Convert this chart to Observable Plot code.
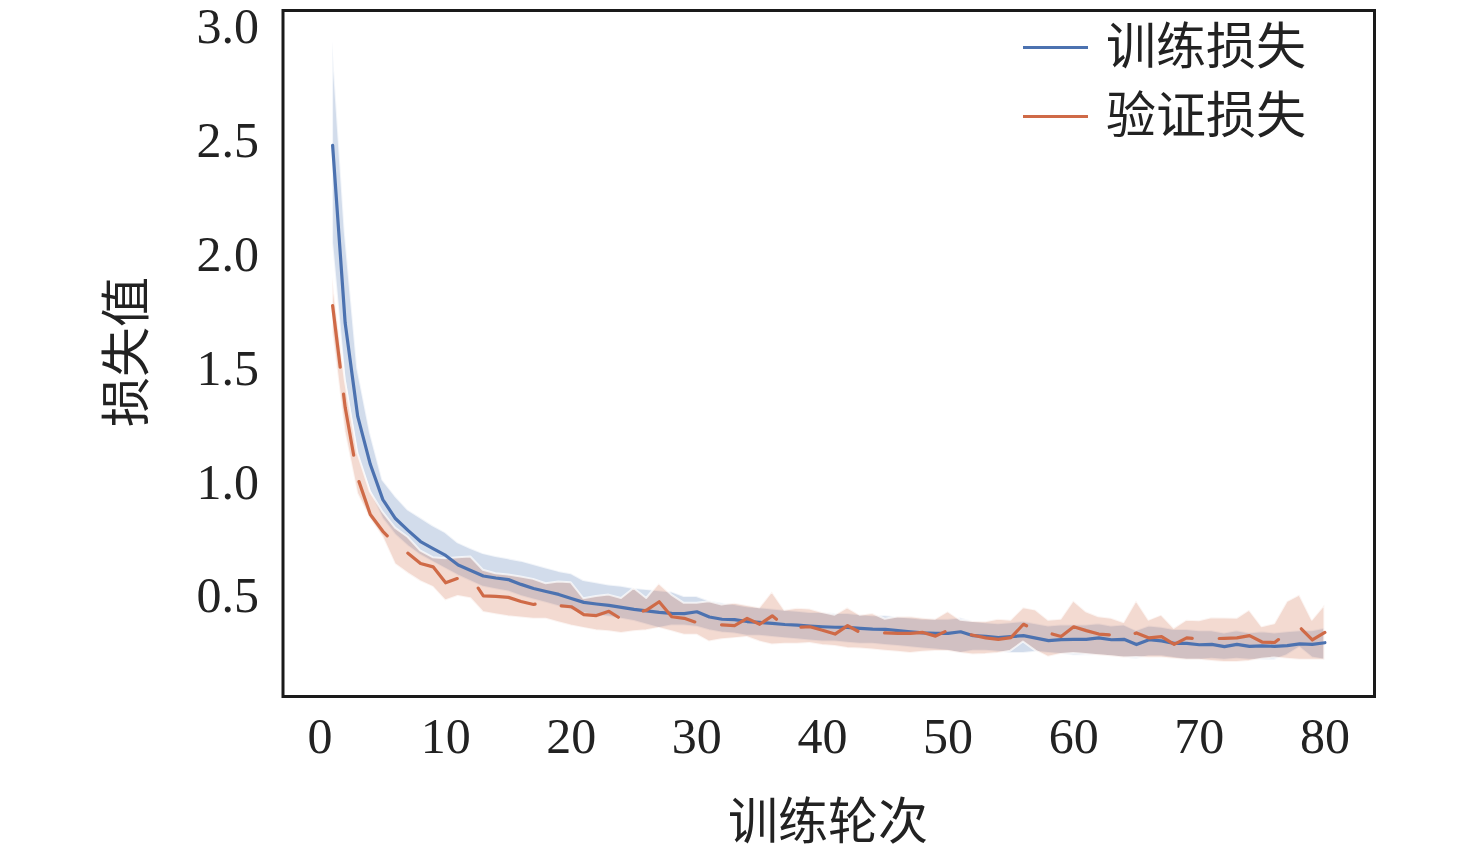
<!DOCTYPE html>
<html>
<head>
<meta charset="utf-8">
<script src="https://cdn.jsdelivr.net/npm/d3@7"></script>
<script src="https://cdn.jsdelivr.net/npm/@observablehq/plot@0.6"></script>
<style>
  html, body { margin: 0; padding: 0; background: #fff; }
  #wrap { position: relative; width: 1476px; height: 854px; overflow: hidden; }
  #chart { position: absolute; left: 0; top: 0; }
  #chart svg { overflow: visible; }
  .lbl { position: absolute; font-family: "Liberation Serif", "Noto Sans CJK SC", serif; font-size: 50px; color: #222; white-space: nowrap; line-height: 1; }
  .leg { position: absolute; font-family: "Liberation Serif", "Noto Sans CJK SC", serif; font-size: 50px; color: #222; white-space: nowrap; line-height: 1; }
  .sw { position: absolute; height: 3px; }
</style>
</head>
<body>
<div id="wrap">
  <div id="chart"></div>
</div>
<script>
// ---- data ----
const epochs = [1,2,3,4,5,6,7,8,9,10,11,12,13,14,15,16,17,18,19,20,21,22,23,24,25,26,27,28,29,30,31,32,33,34,35,36,37,38,39,40,41,42,43,44,45,46,47,48,49,50,51,52,53,54,55,56,57,58,59,60,61,62,63,64,65,66,67,68,69,70,71,72,73,74,75,76,77,78,79,80];

const trainLoss = [2.48,1.70,1.29,1.08,0.925,0.842,0.79,0.741,0.71,0.68,0.638,0.614,0.59,0.581,0.574,0.553,0.535,0.522,0.509,0.491,0.474,0.467,0.461,0.452,0.443,0.437,0.43,0.426,0.425,0.433,0.41,0.40,0.398,0.39,0.386,0.382,0.377,0.374,0.37,0.367,0.365,0.364,0.36,0.357,0.356,0.35,0.345,0.34,0.338,0.338,0.345,0.328,0.325,0.32,0.324,0.328,0.317,0.306,0.311,0.312,0.312,0.318,0.31,0.312,0.289,0.31,0.305,0.294,0.294,0.288,0.29,0.28,0.29,0.281,0.283,0.281,0.284,0.292,0.29,0.297];
const trainHi = [2.935,2.10,1.50,1.22,1.01,0.94,0.88,0.845,0.81,0.78,0.735,0.71,0.688,0.675,0.665,0.655,0.64,0.625,0.61,0.60,0.57,0.56,0.55,0.545,0.535,0.53,0.525,0.52,0.50,0.50,0.48,0.47,0.465,0.455,0.45,0.445,0.44,0.435,0.43,0.43,0.425,0.425,0.42,0.415,0.415,0.41,0.405,0.40,0.40,0.40,0.405,0.39,0.385,0.38,0.385,0.39,0.38,0.37,0.375,0.375,0.375,0.38,0.37,0.375,0.35,0.37,0.365,0.355,0.355,0.35,0.35,0.34,0.35,0.34,0.345,0.34,0.345,0.35,0.35,0.36];
const trainLo = [2.05,1.45,1.12,0.96,0.84,0.77,0.72,0.68,0.65,0.62,0.59,0.565,0.54,0.53,0.52,0.50,0.485,0.47,0.455,0.44,0.425,0.415,0.41,0.40,0.39,0.375,0.36,0.37,0.37,0.365,0.35,0.34,0.335,0.325,0.325,0.32,0.315,0.31,0.305,0.30,0.30,0.295,0.29,0.29,0.285,0.28,0.275,0.27,0.265,0.26,0.25,0.26,0.26,0.255,0.25,0.25,0.255,0.25,0.245,0.24,0.24,0.24,0.235,0.23,0.225,0.235,0.235,0.228,0.22,0.22,0.225,0.22,0.225,0.22,0.22,0.22,0.24,0.275,0.23,0.22];

const valLoss = [1.776,1.33,1.02,0.86,0.786,0.73,0.69,0.645,0.63,0.56,0.58,0.585,0.503,0.50,0.496,0.478,0.465,0.477,0.46,0.455,0.42,0.416,0.435,0.40,0.425,0.44,0.477,0.411,0.404,0.385,0.378,0.375,0.372,0.404,0.378,0.415,0.37,0.365,0.367,0.352,0.335,0.372,0.342,0.342,0.34,0.338,0.338,0.342,0.326,0.352,0.34,0.33,0.318,0.312,0.319,0.378,0.352,0.34,0.324,0.367,0.35,0.335,0.331,0.318,0.34,0.318,0.324,0.29,0.318,0.313,0.315,0.316,0.318,0.328,0.30,0.298,0.34,0.365,0.309,0.342];
const valHi = [1.90,1.45,1.13,0.96,0.87,0.80,0.76,0.70,0.67,0.665,0.67,0.673,0.615,0.60,0.594,0.585,0.575,0.556,0.563,0.56,0.49,0.50,0.506,0.491,0.535,0.491,0.556,0.506,0.47,0.47,0.477,0.462,0.47,0.46,0.45,0.52,0.44,0.448,0.445,0.43,0.418,0.45,0.418,0.425,0.40,0.41,0.411,0.404,0.40,0.433,0.396,0.39,0.389,0.40,0.396,0.45,0.44,0.396,0.40,0.48,0.433,0.411,0.404,0.386,0.48,0.396,0.418,0.36,0.396,0.393,0.407,0.405,0.404,0.44,0.367,0.38,0.477,0.506,0.396,0.462];
const valLo = [1.66,1.22,0.95,0.84,0.76,0.64,0.60,0.565,0.54,0.48,0.50,0.49,0.43,0.42,0.411,0.405,0.40,0.40,0.385,0.37,0.36,0.35,0.345,0.338,0.345,0.35,0.36,0.345,0.33,0.33,0.30,0.31,0.315,0.32,0.30,0.287,0.29,0.29,0.294,0.285,0.28,0.272,0.27,0.265,0.26,0.255,0.25,0.255,0.258,0.258,0.25,0.243,0.245,0.25,0.26,0.30,0.26,0.233,0.245,0.25,0.245,0.24,0.235,0.23,0.232,0.23,0.23,0.225,0.22,0.22,0.215,0.21,0.21,0.215,0.225,0.23,0.225,0.22,0.22,0.22];

const xTicks = [0,10,20,30,40,50,60,70,80];
const yTicks = [0.5,1.0,1.5,2.0,2.5,3.0];
const seriesNames = ["训练损失","验证损失"];
const xLabel = "训练轮次";
const yLabel = "损失值";

const blue = "#4c72b0";
const orange = "#cf6a47";

const train = epochs.map((e,i) => ({epoch:e, v:trainLoss[i], lo:trainLo[i], hi:trainHi[i]}));
const val = epochs.map((e,i) => ({epoch:e, v:valLoss[i], lo:valLo[i], hi:valHi[i]}));

const chart = Plot.plot({
  width: 1476,
  height: 854,
  marginLeft: 282.5,
  marginRight: 102,
  marginTop: 10,
  marginBottom: 158,
  style: {fontFamily: "'Liberation Serif', serif", fontSize: "50px", color: "#222", background: "#fff", overflow: "visible"},
  x: {domain: [-2.95, 83.95]},
  y: {domain: [0.061, 3.0715]},
  marks: [
    Plot.areaY(train, {x:"epoch", y1:"lo", y2:"hi", fill: blue, fillOpacity: 0.25, stroke: "white", strokeOpacity: 0.7, strokeWidth: 2}),
    Plot.areaY(val, {x:"epoch", y1:"lo", y2:"hi", fill: orange, fillOpacity: 0.25, stroke: "white", strokeOpacity: 0.7, strokeWidth: 2}),
    Plot.line(train, {x:"epoch", y:"v", stroke: blue, strokeWidth: 3.2}),
    Plot.line(val, {x:"epoch", y:"v", stroke: orange, strokeWidth: 3.2, strokeDasharray: "62,27"}),
    Plot.axisX({ticks: xTicks, tickSize: 0, tickPadding: 21, tickFormat: d => String(d), label: null, fill: "#222"}),
    Plot.axisY({ticks: yTicks, tickSize: 0, tickPadding: 24, tickFormat: d => d.toFixed(1), label: null, fill: "#222"}),
    Plot.frame({stroke: "#1a1a1a", strokeWidth: 3})
  ]
});
document.getElementById("chart").appendChild(chart);

const wrap = document.getElementById("wrap");
function addDiv(cls, text, css) {
  const d = document.createElement("div");
  d.className = cls;
  if (text) d.textContent = text;
  Object.assign(d.style, css);
  wrap.appendChild(d);
  return d;
}
// axis titles
addDiv("lbl", xLabel, {left: "828px", top: "822px", transform: "translate(-50%,-50%)"});
addDiv("lbl", yLabel, {left: "127px", top: "352px", transform: "translate(-50%,-50%) rotate(-90deg)"});
// legend
const legColors = [blue, orange];
const legY = [47, 116];
seriesNames.forEach((name, i) => {
  addDiv("sw", null, {left: "1023px", top: (legY[i] - 1.5) + "px", width: "65px", background: legColors[i]});
  addDiv("leg", name, {left: "1106px", top: legY[i] + "px", transform: "translateY(-50%)"});
});
</script>
</body>
</html>
